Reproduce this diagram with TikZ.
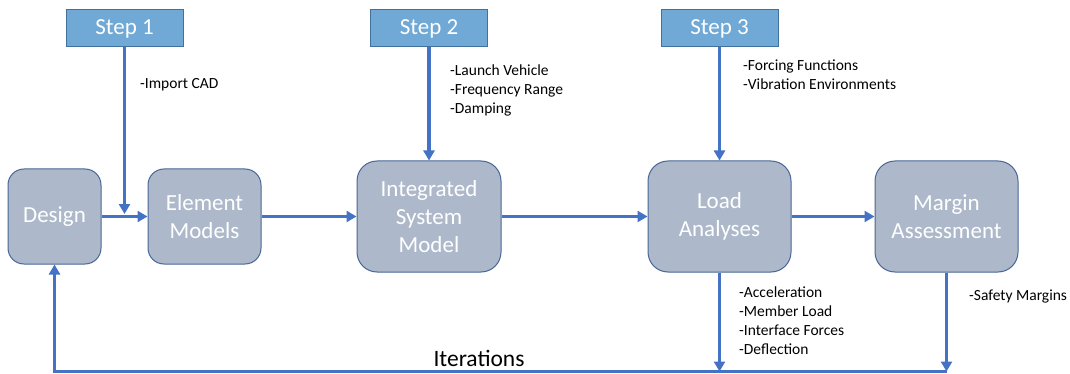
\documentclass[tikz,border=0pt]{standalone}
\usepackage{fontspec}
\setmainfont{Carlito}
\usetikzlibrary{arrows.meta}
\definecolor{flowblue}{RGB}{68,114,196}
\definecolor{stepfill}{RGB}{112,169,213}
\definecolor{stepedge}{RGB}{65,113,156}
\definecolor{boxfill}{RGB}{173,185,202}
\definecolor{boxedge}{RGB}{72,102,150}
\tikzset{
  stepbox/.style={draw=stepedge, line width=1pt, fill=stepfill, text=white,
    minimum width=117pt, minimum height=37pt, inner sep=0pt,
    font=\fontsize{23}{27}\selectfont},
  procbox/.style={draw=boxedge, line width=1pt, fill=boxfill, text=white,
    rounded corners=16pt, inner sep=0pt, align=center,
    font=\fontsize{23}{28}\selectfont},
  note/.style={anchor=west, inner sep=0pt, align=left,
    font=\fontsize{15.5}{19}\selectfont},
  flow/.style={draw=flowblue, line width=3.5pt,
    -{Triangle[length=10pt,width=11pt]}},
  plain/.style={draw=flowblue, line width=3.5pt},
}
\begin{document}
\begin{tikzpicture}[x=1pt,y=-1pt]
\useasboundingbox (0,0) rectangle (1070,374);

% step headers
\node[stepbox] (s1) at (124.5,28.5) {Step 1};
\node[stepbox] (s2) at (429,28.5) {Step 2};
\node[stepbox] (s3) at (719.5,28.5) {Step 3};

% process boxes
\node[procbox, minimum width=93pt, minimum height=95pt] (design) at (54.5,216.5) {Design};
\node[procbox, minimum width=113pt, minimum height=95pt] (elem) at (204.5,216.5) {Element\\Models};
\node[procbox, minimum width=144pt, minimum height=111pt, rounded corners=20pt] (isys) at (429,216.5) {Integrated\\System\\Model};
\node[procbox, minimum width=143pt, minimum height=111pt, rounded corners=20pt] (load) at (719.5,216.5) {Load\\Analyses};
\node[procbox, minimum width=143pt, minimum height=111pt, rounded corners=20pt] (margin) at (946.5,216.5) {Margin\\Assessment};

% junctions
\coordinate (j1) at (124.5,214);
\coordinate (lb) at (719.5,371.5);
\coordinate (mb) at (946.5,371.5);
\coordinate (db) at (54.5,371.5);

% main flow
\draw[flow] (design.east |- 0,216.5) -- (elem.west |- 0,216.5);
\draw[flow] (s1.south) -- (j1);
\draw[flow] (elem) -- (isys);
\draw[flow] (s2.south) -- (isys.north);
\draw[flow] (isys) -- (load);
\draw[flow] (s3.south) -- (load.north);
\draw[flow] (load) -- (margin);

% iteration loop
\draw[flow] (load.south) -- (lb);
\draw[flow] (margin.south) -- (mb);
\draw[plain, -{Triangle[length=10pt,width=11pt]}] (mb) -- (db) -- (design.south);

% annotations
\node[note] (n1) at (140,85) {-Import CAD};
\node[note, anchor=north west] (n2) at (450,65) {-Launch Vehicle\\-Frequency Range\\-Damping};
\node[note, anchor=north west] (n3) at (743,60) {-Forcing Functions\\-Vibration Environments};
\node[note, anchor=north west] (n4) at (739,287) {-Acceleration\\-Member Load\\-Interface Forces\\-Deflection};
\node[note] (n5) at (969,296) {-Safety Margins};
\node[font=\fontsize{23.5}{27}\selectfont, inner sep=0pt] (iter) at (479,358) {Iterations};
\end{tikzpicture}
\end{document}
